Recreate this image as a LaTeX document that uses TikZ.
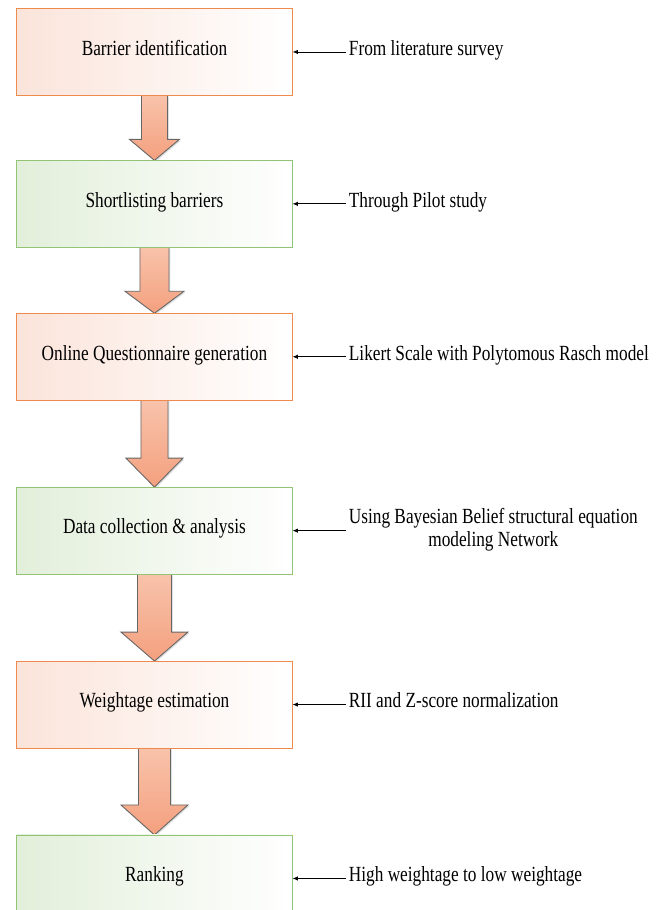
\documentclass[tikz,border=0pt]{standalone}
\usepackage{fontspec}
\setmainfont{Liberation Serif}[FakeStretch=0.8]
\usepackage{tikz}
\usetikzlibrary{matrix,arrows,arrows.meta,calc,backgrounds,shadows}

\definecolor{boxorange}{HTML}{EF8A4E}
\definecolor{tintorange}{HTML}{FBE4DA}
\definecolor{boxgreen}{HTML}{93C476}
\definecolor{tintgreen}{HTML}{E2EFDA}
\definecolor{arrowtop}{HTML}{F8C3AB}
\definecolor{arrowbot}{HTML}{F4A07E}
\definecolor{arrowline}{HTML}{666666}

\tikzset{
  orangebox/.style={draw=boxorange, line width=0.9pt, left color=tintorange, middle color=tintorange!30, right color=white},
  greenbox/.style={draw=boxgreen, line width=0.9pt, left color=tintgreen, middle color=tintgreen!30, right color=white},
  blockarr/.style={draw=arrowline, line width=0.9pt, top color=arrowtop, bottom color=arrowbot, line join=miter,
    drop shadow={opacity=0.25, shadow xshift=1.5pt, shadow yshift=-1.2pt}},
  pointer/.style={-{Latex[length=5.5pt,width=4.5pt]}, line width=0.9pt}
}

\begin{document}
\begin{tikzpicture}[font=\fontsize{21.6}{23}\selectfont]
  \useasboundingbox (0pt,0pt) rectangle (660pt,-910pt);
  \clip (0pt,0pt) rectangle (660pt,-910pt);
  \matrix (m) [matrix of nodes, row sep=64pt, column sep=53pt, anchor=north west, inner sep=0pt, outer sep=0pt,
    column 1/.style={nodes={anchor=center, minimum width=276pt, minimum height=87pt, inner sep=3pt, text height=0.66em, text depth=0pt}},
    column 2/.style={nodes={anchor=west, inner sep=3pt, text height=0.66em, text depth=0pt}}] at (16pt,-8pt)
  {
|[orangebox]| Barrier identification & From literature survey \\
|[greenbox]| Shortlisting barriers & Through Pilot study \\[1pt]
|[orangebox]| Online Questionnaire generation & Likert Scale with Polytomous Rasch model \\[22pt]
|[greenbox]| Data collection \& analysis & |[text height={}, text depth={}]| \begin{tabular}{@{}c@{}}Using Bayesian Belief structural equation\tabularnewline modeling Network\end{tabular} \\[22pt]
|[orangebox]| Weightage estimation & RII and Z-score normalization \\[22pt]
|[greenbox]| Ranking & High weightage to low weightage \\
};
  % block arrows between the steps
  \begin{scope}[on background layer]
  \foreach \i/\j/\s/\h/\d in {1/2/13/25/21, 2/3/14.5/29.5/22, 3/4/13.5/28.5/29, 4/5/17/33.5/29, 5/6/16/33.5/30}
    \draw[blockarr] ($(m-\i-1.south)+(-\s pt,0pt)$) -- ($(m-\j-1.north)+(-\s pt,\d pt)$)
      -- ($(m-\j-1.north)+(-\h pt,\d pt)$) -- (m-\j-1.north)
      -- ($(m-\j-1.north)+(\h pt,\d pt)$) -- ($(m-\j-1.north)+(\s pt,\d pt)$)
      -- ($(m-\i-1.south)+(\s pt,0pt)$) -- cycle;
  \end{scope}
  \path[pointer]
  (m-1-2) edge (m-1-1)
  (m-2-2) edge (m-2-1)
  (m-3-2) edge (m-3-1)
  (m-4-2) edge (m-4-1)
  (m-5-2) edge (m-5-1)
  (m-6-2) edge (m-6-1)
  ;
\end{tikzpicture}
\end{document}
